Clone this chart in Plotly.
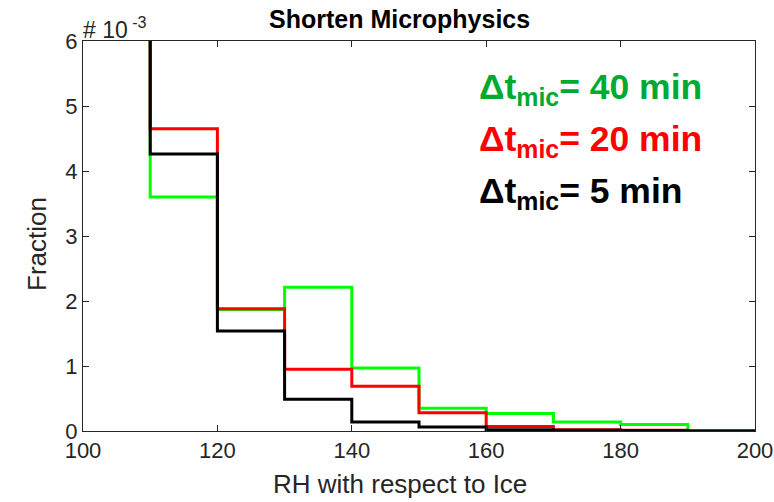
import plotly.graph_objects as go

edges = [100, 110, 120, 130, 140, 150, 160, 170, 180, 190, 200]
# fractions (x 1e-3) for each 10-unit bin
green_40 = [30.0, 3.60, 1.87, 2.21, 0.97, 0.35, 0.27, 0.14, 0.10, 0.00]
red_20 = [30.0, 4.65, 1.88, 0.95, 0.69, 0.28, 0.07, 0.02, 0.01, 0.00]
black_5 = [30.0, 4.26, 1.54, 0.49, 0.14, 0.06, 0.02, 0.01, 0.005, 0.00]

series = [
    ("40 min", green_40, "#00ff00", "rgb(0,170,50)"),
    ("20 min", red_20, "#ff0000", "#ff0000"),
    ("5 min", black_5, "#000000", "#000000"),
]

fig = go.Figure()
for name, vals, col, tcol in series:
    yv = [v * 1e-3 for v in vals] + [vals[-1] * 1e-3]
    fig.add_trace(go.Scatter(x=edges, y=yv, mode="lines", line=dict(color=col, width=3, shape="hv"),
                             name=name, showlegend=False))

font = "Liberation Sans, Arial, sans-serif"
ann_y = [0.877, 0.744, 0.611]
for (name, vals, col, tcol), yy in zip(series, ann_y):
    fig.add_annotation(xref="paper", yref="paper", x=0.586, y=yy, xanchor="left", yanchor="middle",
                       text=f"<b>Δt<sub>mic</sub>= {name}</b>", showarrow=False,
                       font=dict(family=font, size=35.5, color=tcol))

fig.add_annotation(xref="paper", yref="paper", x=0.0, y=1.0, xanchor="left", yanchor="bottom",
                   text="# 10<sup> -3</sup>", showarrow=False, font=dict(family=font, size=23, color="#262626"),
                   xshift=-2, yshift=-4)

# chart title and axis titles
fig.add_annotation(xref="paper", yref="paper", x=0.4717, y=1.056, xanchor="center", yanchor="middle",
                   text="<b>Shorten Microphysics</b>", showarrow=False,
                   font=dict(family=font, size=25, color="black"))
fig.add_annotation(xref="paper", yref="paper", x=0.472, y=-0.136, xanchor="center", yanchor="middle",
                   text="RH with respect to Ice", showarrow=False,
                   font=dict(family=font, size=26, color="#262626"))
fig.add_annotation(xref="paper", yref="paper", x=-0.0685, y=0.4795, xanchor="center", yanchor="middle",
                   text="Fraction", textangle=-90, showarrow=False,
                   font=dict(family=font, size=26, color="#262626"))

axcommon = dict(showline=True, linecolor="#262626", linewidth=1, mirror="ticks", ticks="inside",
                ticklen=6, tickcolor="#262626", showgrid=False, zeroline=False, automargin=False,
                tickfont=dict(family=font, size=22, color="#262626"))

fig.update_layout(
    width=774, height=502,
    margin=dict(l=83, r=19, t=41, b=71),
    plot_bgcolor="white", paper_bgcolor="white",
    xaxis=dict(range=[100, 200], tickvals=[100, 120, 140, 160, 180, 200], **axcommon),
    yaxis=dict(range=[0, 0.006], tickvals=[0, 0.001, 0.002, 0.003, 0.004, 0.005, 0.006],
               ticktext=["0", "1", "2", "3", "4", "5", "6"], **axcommon),
)

fig.write_html("out.html")
